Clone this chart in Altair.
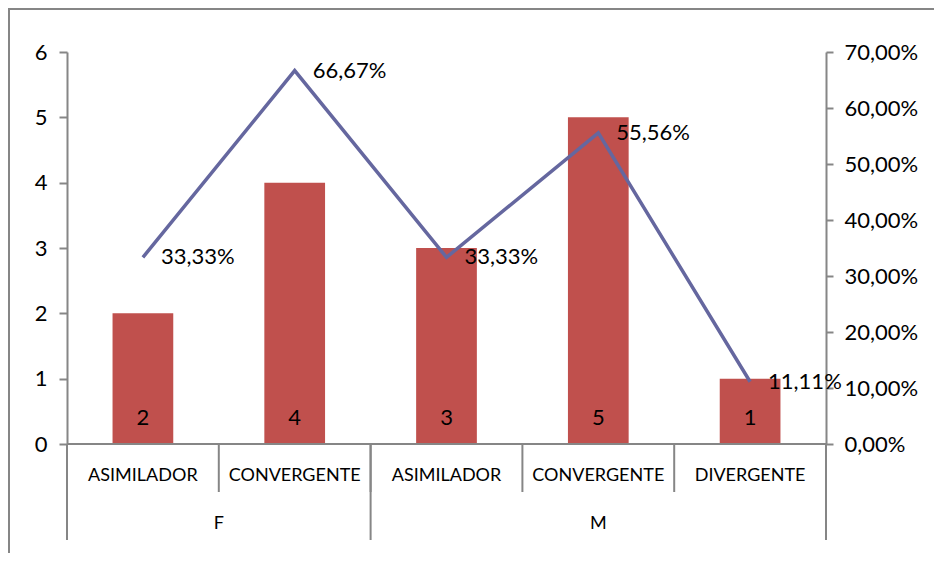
import altair as alt
import pandas as pd

groups = ["F", "F", "M", "M", "M"]
styles = ["ASIMILADOR", "CONVERGENTE", "ASIMILADOR", "CONVERGENTE", "DIVERGENTE"]
counts = [2, 4, 3, 5, 1]
pcts = [0.3333, 0.6667, 0.3333, 0.5556, 0.1111]
left_ticks = [0, 1, 2, 3, 4, 5, 6]
right_ticks = [0.0, 0.1, 0.2, 0.3, 0.4, 0.5, 0.6, 0.7]

FONT = "Lato"
GRAY = "#868686"
W, H = 759, 392

df = pd.DataFrame({
    "group": groups,
    "style": styles,
    "count": counts,
    "pct": pcts,
    "idx": list(range(len(styles))),
})
df["pct_label"] = [f"{p*100:.2f}%".replace(".", ",") for p in pcts]

inner_b = pd.DataFrame({"b": list(range(len(styles) + 1))})
outer_list = [0] + [i for i in range(1, len(groups)) if groups[i] != groups[i - 1]] + [len(groups)]
outer_b = pd.DataFrame({"b": outer_list})

xscale = alt.Scale(domain=[0, len(styles)], nice=False, zero=False)

base = alt.Chart(df).transform_calculate(
    pos="datum.idx + 0.5", x1="datum.idx + 0.3", x2="datum.idx + 0.7", zero="0"
)

bars = base.mark_bar(color="#C0504D").encode(
    x=alt.X("x1:Q", scale=xscale, axis=None),
    x2="x2:Q",
    y=alt.Y("count:Q", scale=alt.Scale(domain=[0, 6], nice=False),
            axis=alt.Axis(values=left_ticks, format="d", title=None, grid=False, tickSize=8,
                          tickColor=GRAY, tickWidth=2, domainColor=GRAY, domainWidth=2,
                          labelFont=FONT, labelFontSize=22, labelColor="black",
                          labelPadding=12)),
    y2="zero:Q",
)
bar_text = base.mark_text(dy=-26, font=FONT, fontSize=22, color="black", baseline="middle").encode(
    x="pos:Q", y="zero:Q", text="count:Q"
)

baseline = alt.Chart(df).mark_rule(color=GRAY, strokeWidth=2).encode(
    x=alt.datum(0), x2=alt.datum(len(styles)), y=alt.value(H)
)
inner_rules = alt.Chart(inner_b).mark_rule(color=GRAY, strokeWidth=2).encode(
    x="b:Q", y=alt.value(H), y2=alt.value(H + 48)
)
outer_rules = alt.Chart(outer_b).mark_rule(color=GRAY, strokeWidth=2).encode(
    x="b:Q", y=alt.value(H), y2=alt.value(H + 96)
)
inner_labels = base.mark_text(font=FONT, fontSize=18, color="black", baseline="middle").encode(
    x="pos:Q", y=alt.value(H + 32), text="style:N"
)
outer_labels = base.transform_aggregate(
    center="mean(pos)", groupby=["group"]
).mark_text(font=FONT, fontSize=18, color="black", baseline="middle").encode(
    x="center:Q", y=alt.value(H + 80), text="group:N"
)
frame_left = alt.Chart(df).mark_rule(color=GRAY, strokeWidth=2).encode(
    x=alt.value(-58), y=alt.value(-44), y2=alt.value(H + 120)
)
frame_top = alt.Chart(df).mark_rule(color=GRAY, strokeWidth=2).encode(
    x=alt.value(-59), x2=alt.value(W + 110), y=alt.value(-43)
)

left = alt.layer(bars, bar_text, baseline, inner_rules, outer_rules,
                 inner_labels, outer_labels, frame_left, frame_top)

line = base.mark_line(color="#65679F", strokeWidth=3.5).encode(
    x="pos:Q",
    y=alt.Y("pct:Q", scale=alt.Scale(domain=[0, 0.7], nice=False),
            axis=alt.Axis(orient="right", values=right_ticks, title=None, grid=False,
                          tickSize=7, tickColor=GRAY, tickWidth=2, domainColor=GRAY,
                          domainWidth=2, labelFont=FONT, labelFontSize=22,
                          labelColor="black", labelPadding=11,
                          labelExpr="replace(format(datum.value*100, '.2f'), '.', ',') + '%'")),
)
line_text = base.mark_text(align="left", baseline="middle", dx=18, font=FONT,
                           fontSize=22, color="black").encode(
    x="pos:Q", y="pct:Q", text="pct_label:N"
)
right = alt.layer(line, line_text)

chart = alt.layer(left, right).resolve_scale(y="independent").properties(
    width=W, height=H,
    autosize=alt.AutoSizeParams(type="none"),
    padding={"left": 59, "top": 44, "right": 108, "bottom": 109},
).configure_view(stroke=None)

chart.save("out.html", embed_options={"renderer": "svg", "actions": False})
